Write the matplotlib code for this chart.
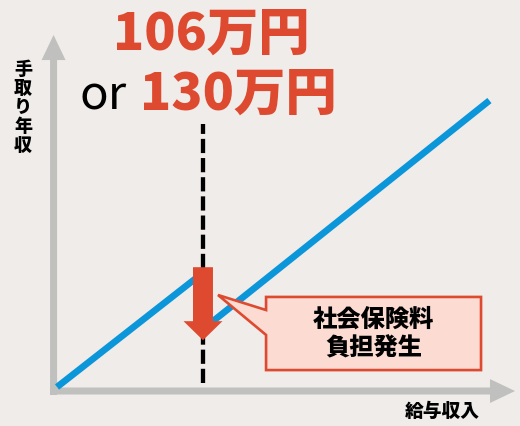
"""手取り年収と給与収入の関係（106万円・130万円の壁）"""

import matplotlib
matplotlib.use('Agg')
from matplotlib import pyplot as plt
from matplotlib.patches import FancyArrow, Polygon

plt.rcParams['font.family'] = ['Noto Sans CJK JP', 'DejaVu Sans']

# data (万円): income on x, take-home on y
threshold = 106
income_before = [0, 106]
takehome_before = [0, 83]
income_after = [106, 314]
takehome_after = [42, 208]

title_top = '106万円'
title_or = 'or'
title_bottom = '130万円'
callout_text = '社会保険料\n負担発生'
xlabel = '給与収入'
ylabel = '手取り年収'

BG = '#f0ecea'
GRAY = '#c0c1bf'
BLUE = '#0b96da'
RED = '#dd4a2f'
PINK = '#fbdbd2'

fig = plt.figure(figsize=(5.2, 4.26), dpi=100, facecolor=BG)
ax = fig.add_axes([0, 0, 1, 1])
ax.set_facecolor(BG)
ax.set_xlim(-41.4, 336.2)
ax.set_ylim(-28.3, 281.0)
ax.axis('off')

# axis arrows
ax.add_patch(FancyArrow(-2.5, -5.8, 0, 261.4, width=5.1, head_width=17.4,
                        head_length=18.2, length_includes_head=True,
                        color=GRAY, lw=0))
ax.add_patch(FancyArrow(-5.1, -2.9, 337.7, 0, width=5.1, head_width=17.4,
                        head_length=18.2, length_includes_head=True,
                        color=GRAY, lw=0))

# take-home line
ax.plot(income_before, takehome_before, color=BLUE, lw=4.8,
        solid_capstyle='butt')
ax.plot(income_after, takehome_after, color=BLUE, lw=4.8,
        solid_capstyle='butt')

# threshold marker
ax.plot([threshold, threshold], [3, 191], color='black', lw=3.1,
        dashes=(3.3, 1.15))
ax.add_patch(FancyArrow(threshold, 87, 0, -53, width=14.5, head_width=28.3,
                        head_length=13.8, length_includes_head=True,
                        color=RED, lw=0, zorder=5))

# callout
callout = Polygon([(151.8, 65.4), (307.9, 65.4), (307.9, 12.3), (151.8, 12.3),
                   (151.8, 37.8), (116.9, 66.8), (151.8, 55.9)],
                  closed=True, facecolor=PINK, edgecolor=RED, lw=1.9,
                  joinstyle='miter', zorder=6)
ax.add_patch(callout)
ax.text(229.8, 38.5, callout_text, ha='center', va='center', fontsize=17.5,
        fontweight='heavy', linespacing=1.25, zorder=7)

# titles
ax.text(111.8, 244.7, title_top, ha='center', va='baseline', fontsize=37,
        fontweight='heavy', color=RED)
ax.text(33.8, 201.2, title_or, ha='center', va='baseline', fontsize=34,
        color='black')
ax.text(131.8, 201.2, title_bottom, ha='center', va='baseline', fontsize=37,
        fontweight='heavy', color=RED)

# axis labels
ax.text(-24.7, 203.3, '\n'.join(ylabel), ha='center', va='center',
        fontsize=13, fontweight='heavy', linespacing=1.0)
ax.text(279.6, -17.4, xlabel, ha='center', va='center', fontsize=13.5,
        fontweight='heavy')

plt.savefig('out.png', dpi=100, facecolor=BG)
